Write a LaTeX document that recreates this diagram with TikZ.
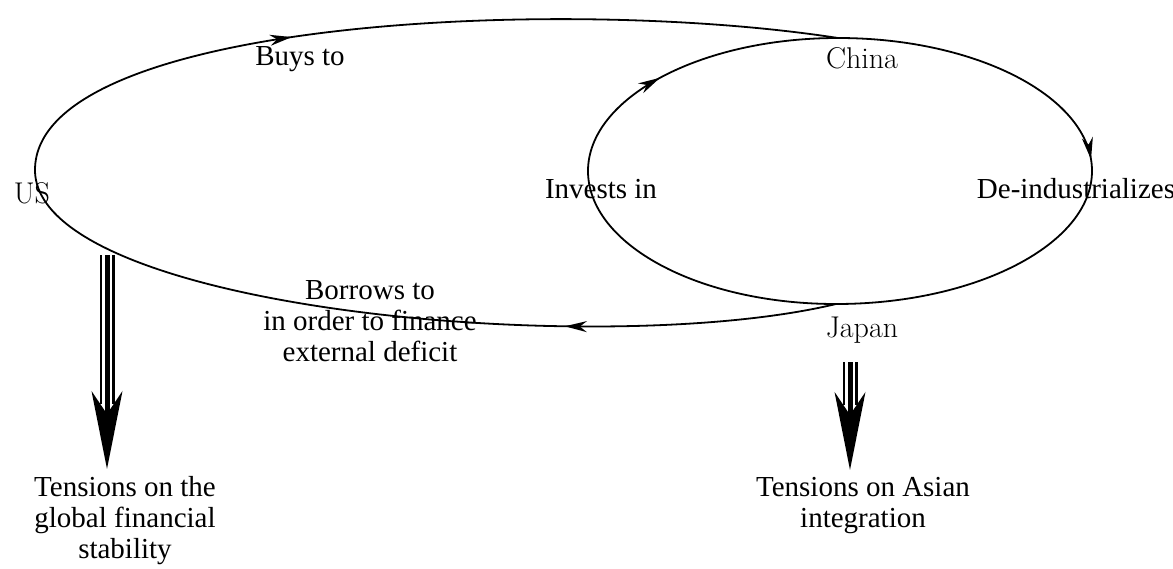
\documentclass[tikz,border=0pt]{standalone}
\usepackage{fontspec}
\usepackage{tikz}
\newfontfamily\gfont{Liberation Serif}
\newcommand{\lBorrows}{Borrows to\\in order to finance\\external deficit}
\newcommand{\lTensionUS}{Tensions on the\\global financial\\stability}
\newcommand{\lTensionAsia}{Tensions on Asian\\integration}
\usetikzlibrary{arrows.meta, decorations.markings, calc}

\begin{document}
\begin{tikzpicture} [
        x=0.5pt, y=-0.5pt,
        line width=0.9pt,
        country/.style={font=\fontsize{15}{18}\selectfont, inner sep=0pt, anchor=base},
        link/.style={font=\gfont\fontsize{14.5}{15.5}\selectfont, inner sep=0pt, anchor=base, align=center},
        outcome/.style={font=\gfont\fontsize{14.5}{15.5}\selectfont, inner sep=3pt, anchor=base, align=center},
        flow at/.style={decoration={markings, mark=at position #1 with {\arrow{Stealth[length=11pt,width=5.5pt,inset=3.5pt]}}}, postaction=decorate},
        shaft/.style={line width=7.5pt, postaction={draw, white, line width=5pt}},
        shaft core/.style={line width=2.5pt, -{Stealth[length=39pt,width=15.5pt,inset=11.5pt,line width=0pt]}}
    ]
    \useasboundingbox (0,0) rectangle (1173,568);

    \coordinate (us pt) at (35,170);
    \coordinate (cn pt) at (838,38);
    \coordinate (jp pt) at (836,304);
    \coordinate (ell w) at (588,171);
    \coordinate (ell e) at (1092,171);

    \node[country] (us) at (32,203) {US};
    \node[country] (china) at (862,68) {China};
    \node[country] (japan) at (862,337) {Japan};

    % multi-line labels sit on their last baseline
    \node[link] (buys) at (300,65) {Buys to};
    \node[link] (borrows) at (370,361) {\lBorrows};
    \node[link] (invests) at (601,198) {Invests in};
    \node[link] (deind) at (1076,198) {De-industrializes};

    \node[outcome] (t us) at (125,558) {\lTensionUS};
    \node[outcome] (t asia) at (863,527) {\lTensionAsia};

    % the two loops
    \draw[flow at=0.36] (us pt) .. controls +(0,-150) and +(-277,-43) .. (cn pt);
    \draw[flow at=0.32] (jp pt) .. controls +(-233,56) and +(0,140) .. (us pt);
    \draw[flow at=0.70] (jp pt) .. controls +(-138,0) and +(0,73) .. (ell w) .. controls +(0,-73) and +(-138,0) .. (cn pt);
    \draw[flow at=0.48] (cn pt) .. controls +(140,0) and +(0,-73) .. (ell e) .. controls +(0,73) and +(140,0) .. (jp pt);

    % consequences
    \coordinate (us out) at (107,255);
    \coordinate (jp out) at (850,362);
    \draw[shaft] (us out) -- ($ (us out |- t us.north) + (0,-65) $);
    \draw[shaft core] (us out) -- (us out |- t us.north);
    \draw[shaft] (jp out) -- ($ (jp out |- t asia.north) + (0,-65) $);
    \draw[shaft core] (jp out) -- (jp out |- t asia.north);

    \end{tikzpicture}
\end{document}
